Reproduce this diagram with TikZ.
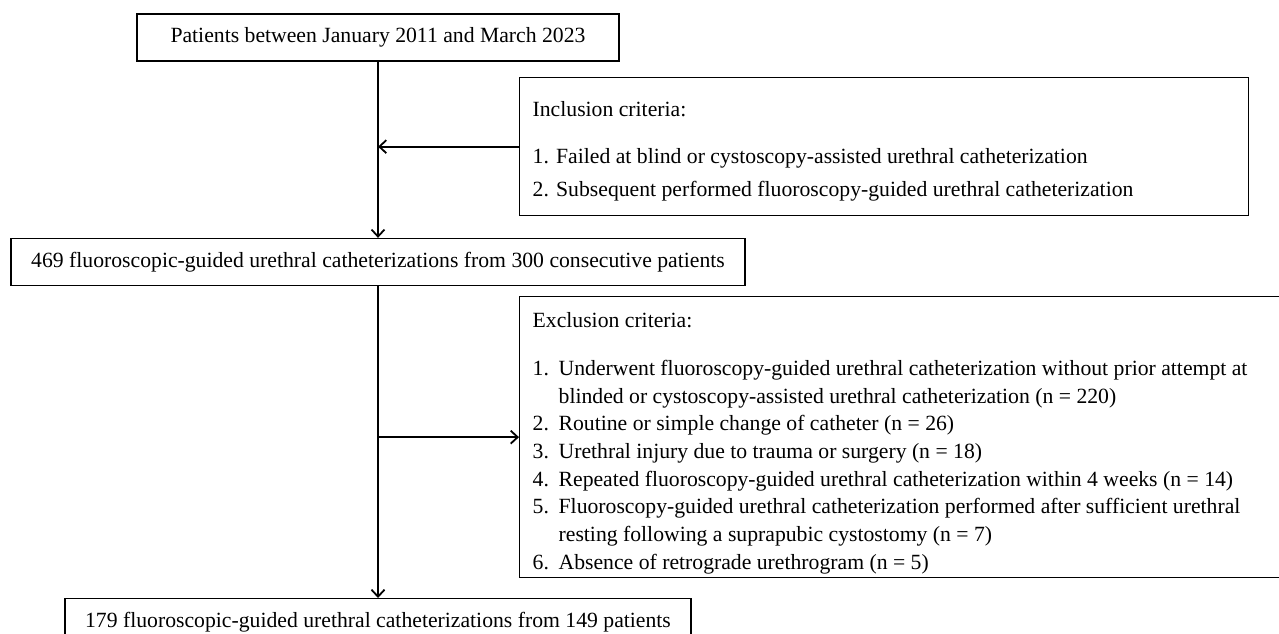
\documentclass[tikz,border=0pt]{standalone}
\usepackage{fontspec}
\setmainfont{Liberation Serif}
\usetikzlibrary{arrows.meta,positioning}

\newcommand{\itm}[1]{\makebox[26pt][l]{#1}}
% fixed-height text block, top aligned: height, width, gap, text
\newcommand{\listtext}[4]{\parbox[c][#1][t]{#2}{\raggedright\vspace*{#3}#4}}

\begin{document}
\begin{tikzpicture}[%
    x=1pt, y=-1pt,              % work in pixels, top-down
    >={Straight Barb[length=7pt,width=13pt,line width=1.8pt]},
    font=\fontsize{21.7}{28.5}\selectfont,
    ]
% -------------------------------------------------
% Box and connector styles
\tikzset{
  base/.style={draw, line width=1.3pt, inner sep=0pt},
  box/.style={base, minimum height=47pt, align=center},
  list/.style={base, anchor=north west, inner xsep=13pt},
  trunk/.style={->, line width=2.4pt},
  to/.style={->, line width=2pt}
}
\useasboundingbox (0,0) rectangle (1279,633);
% -------------------------------------------------
% Main flow down the left
\node [box, minimum width=482pt] (pat) at (378,37.5) {Patients between January 2011 and March 2023};
\node [box, minimum width=734pt] (tot) at (378,262) {469 fluoroscopic-guided urethral catheterizations from 300 consecutive patients};
\node [box, minimum width=626pt, anchor=north] (fin) at (378,598) {179 fluoroscopic-guided urethral catheterizations from 149 patients};

% Side boxes
\node [list, font=\fontsize{21.7}{33}\selectfont] (inc) at (519,77) {%
  \listtext{138pt}{703pt}{24pt}{Inclusion criteria:\\[14pt]
  1. Failed at blind or cystoscopy-assisted urethral catheterization\\
  2. Subsequent performed fluoroscopy-guided urethral catheterization}};
\node [list, font=\fontsize{21.7}{27.7}\selectfont] (exc) at (519,296) {%
  \listtext{281pt}{734pt}{16pt}{Exclusion criteria:\\[20pt]
  \itm{1.}Underwent fluoroscopy-guided urethral catheterization without prior attempt at\\
  \itm{}blinded or cystoscopy-assisted urethral catheterization (n = 220)\\
  \itm{2.}Routine or simple change of catheter (n = 26)\\
  \itm{3.}Urethral injury due to trauma or surgery (n = 18)\\
  \itm{4.}Repeated fluoroscopy-guided urethral catheterization within 4 weeks (n = 14)\\
  \itm{5.}Fluoroscopy-guided urethral catheterization performed after sufficient urethral\\
  \itm{}resting following a suprapubic cystostomy (n = 7)\\
  \itm{6.}Absence of retrograde urethrogram (n = 5)}};

% -------------------------------------------------
% Connectors
\draw[trunk] (pat) -- (tot);
\draw[trunk] (tot) -- (fin);
\draw[to] (inc.west) -- (inc.west -| pat);
\draw[to] (exc.west -| tot) -- (exc.west);
\end{tikzpicture}
\end{document}
